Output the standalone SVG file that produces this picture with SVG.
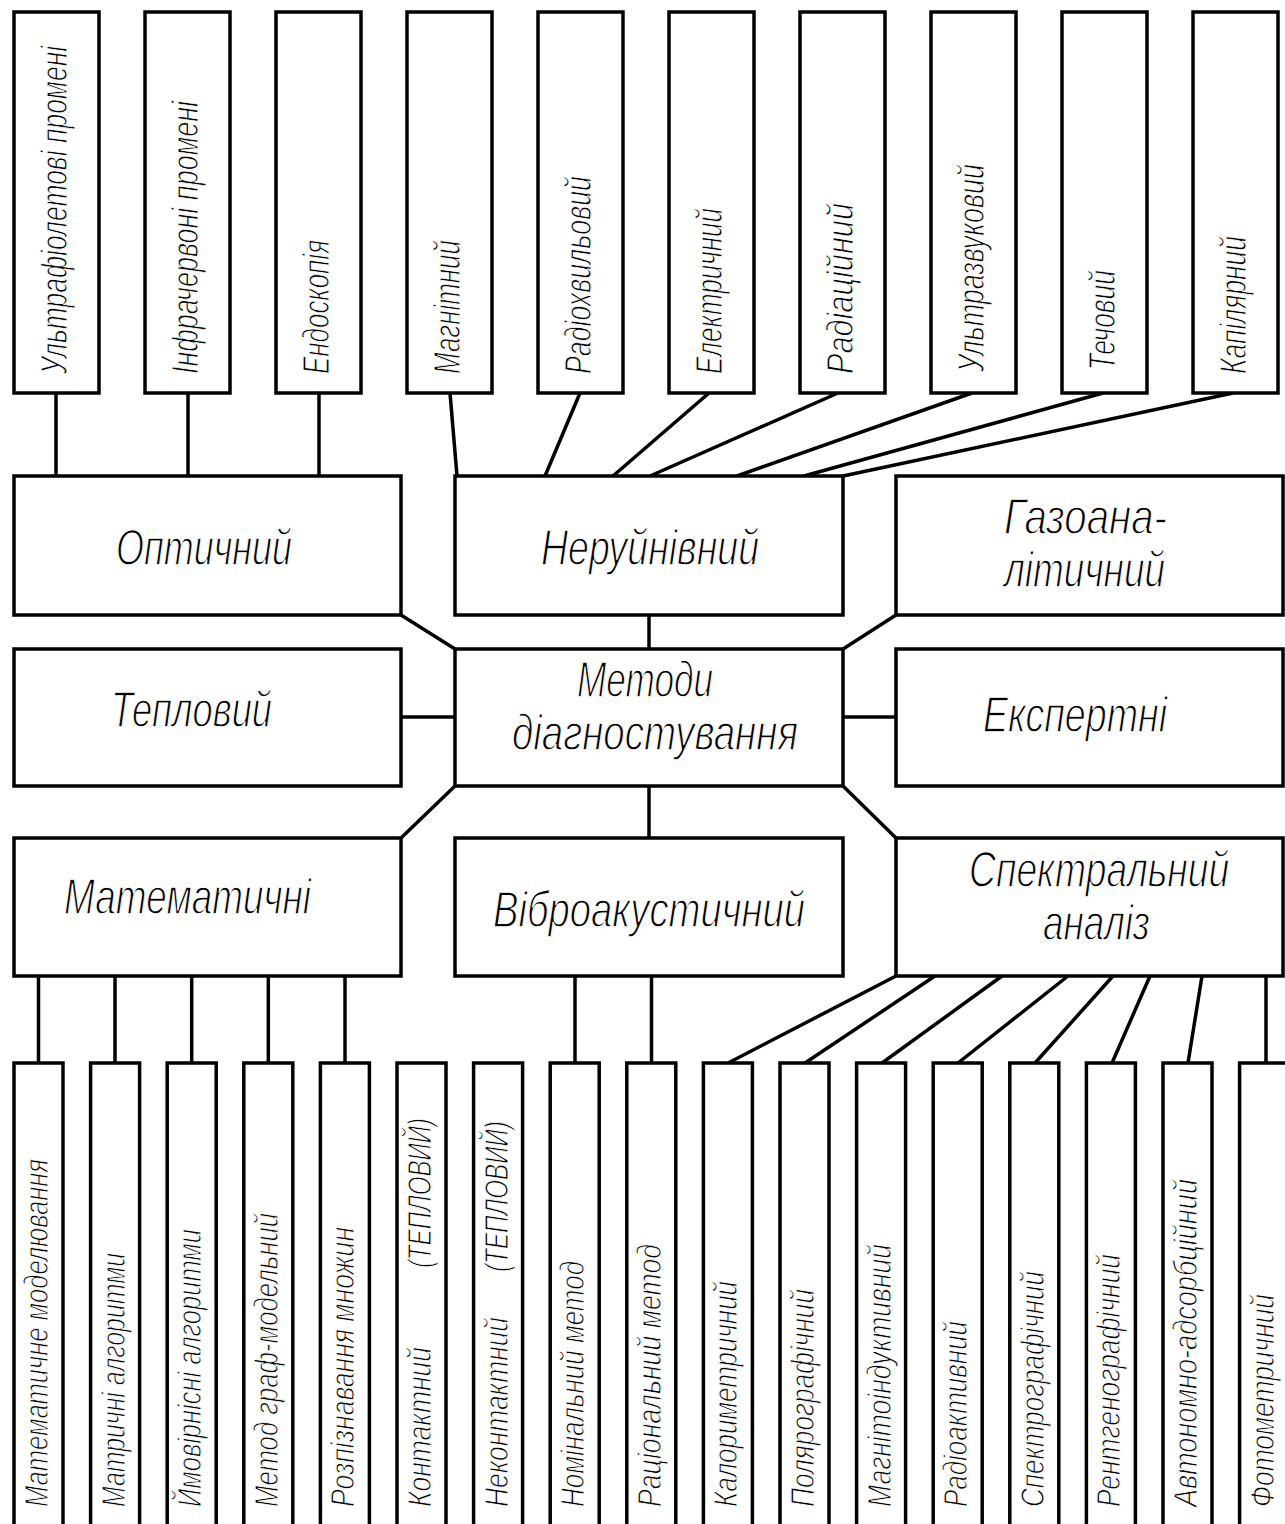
<svg xmlns="http://www.w3.org/2000/svg" width="1285" height="1524" viewBox="0 0 1285 1524">
<style>
rect{fill:#fff;stroke:#000;stroke-width:3.5}
.c line{stroke:#000;stroke-width:3.5}
text{font-family:"Liberation Sans",Arial,sans-serif;font-style:italic;fill:#000;stroke:#fff;stroke-width:1}
.m{font-size:50px;stroke-width:1.3}
.t{font-size:37px}
.b{font-size:34px}
</style>
<rect x="0" y="0" width="1285" height="1524" style="stroke:none"/>
<g class="c">
<line x1="56" y1="393" x2="56" y2="476"/>
<line x1="188" y1="393" x2="188" y2="476"/>
<line x1="319" y1="393" x2="319" y2="476"/>
<line x1="450" y1="393" x2="457" y2="476"/>
<line x1="580" y1="393" x2="545" y2="476"/>
<line x1="709" y1="393" x2="613" y2="476"/>
<line x1="838" y1="393" x2="650" y2="476"/>
<line x1="972" y1="393" x2="737" y2="476"/>
<line x1="1103" y1="393" x2="804" y2="476"/>
<line x1="1233" y1="393" x2="843" y2="476"/>
<line x1="401" y1="615" x2="455" y2="649"/>
<line x1="649" y1="615" x2="649" y2="649"/>
<line x1="896" y1="615" x2="843" y2="649"/>
<line x1="401" y1="717" x2="455" y2="717"/>
<line x1="843" y1="717" x2="896" y2="717"/>
<line x1="455" y1="786" x2="401" y2="838"/>
<line x1="649" y1="786" x2="649" y2="838"/>
<line x1="843" y1="786" x2="896" y2="838"/>
<line x1="38.5" y1="976" x2="38.5" y2="1063"/>
<line x1="115" y1="976" x2="115" y2="1063"/>
<line x1="191.7" y1="976" x2="191.7" y2="1063"/>
<line x1="268.3" y1="976" x2="268.3" y2="1063"/>
<line x1="345" y1="976" x2="345" y2="1063"/>
<line x1="575" y1="976" x2="575" y2="1063"/>
<line x1="651.5" y1="976" x2="651.5" y2="1063"/>
<line x1="896" y1="976" x2="728" y2="1063"/>
<line x1="935" y1="976" x2="805" y2="1063"/>
<line x1="1002" y1="976" x2="882" y2="1063"/>
<line x1="1068" y1="976" x2="958" y2="1063"/>
<line x1="1113" y1="976" x2="1035" y2="1063"/>
<line x1="1150" y1="976" x2="1112" y2="1063"/>
<line x1="1202" y1="976" x2="1188" y2="1063"/>
<line x1="1266" y1="976" x2="1266" y2="1063"/>
</g>
<g id="n-uv"><rect x="14" y="12" width="85" height="381"/><text class="t" transform="translate(67,374) rotate(-90) scale(0.715,1)">Ультрафіолетові промені</text></g>
<g id="n-ir"><rect x="145" y="12" width="85" height="381"/><text class="t" transform="translate(198,374) rotate(-90)" textLength="273" lengthAdjust="spacingAndGlyphs">Інфрачервоні промені</text></g>
<g id="n-endo"><rect x="276" y="12" width="85" height="381"/><text class="t" transform="translate(329,374) rotate(-90)" textLength="134" lengthAdjust="spacingAndGlyphs">Ендоскопія</text></g>
<g id="n-magn"><rect x="407" y="12" width="85" height="381"/><text class="t" transform="translate(460,374) rotate(-90)" textLength="134" lengthAdjust="spacingAndGlyphs">Магнітний</text></g>
<g id="n-radio"><rect x="538" y="12" width="85" height="381"/><text class="t" transform="translate(591,374) rotate(-90)" textLength="198" lengthAdjust="spacingAndGlyphs">Радіохвильовий</text></g>
<g id="n-el"><rect x="669" y="12" width="85" height="381"/><text class="t" transform="translate(722,374) rotate(-90)" textLength="166" lengthAdjust="spacingAndGlyphs">Електричний</text></g>
<g id="n-rad"><rect x="800" y="12" width="85" height="381"/><text class="t" transform="translate(853,374) rotate(-90)" textLength="171" lengthAdjust="spacingAndGlyphs">Радіаційний</text></g>
<g id="n-us"><rect x="931" y="12" width="85" height="381"/><text class="t" transform="translate(984,372) rotate(-90)" textLength="208" lengthAdjust="spacingAndGlyphs">Ультразвуковий</text></g>
<g id="n-tech"><rect x="1062" y="12" width="85" height="381"/><text class="t" transform="translate(1115,370) rotate(-90)" textLength="100" lengthAdjust="spacingAndGlyphs">Течовий</text></g>
<g id="n-kap"><rect x="1193" y="12" width="85" height="381"/><text class="t" transform="translate(1246,374) rotate(-90)" textLength="138" lengthAdjust="spacingAndGlyphs">Капілярний</text></g>
<g id="n-opt"><rect x="14" y="476" width="387" height="139"/><text class="m" x="116" y="565" textLength="176" lengthAdjust="spacingAndGlyphs">Оптичний</text></g>
<g id="n-nerui"><rect x="455" y="476" width="388" height="139"/><text class="m" x="541" y="565" textLength="218" lengthAdjust="spacingAndGlyphs">Неруйнівний</text></g>
<g id="n-gas"><rect x="896" y="476" width="387" height="139"/><text class="m" x="1004" y="534" textLength="163" lengthAdjust="spacingAndGlyphs">Газоана-</text><text class="m" x="1004" y="587" textLength="161" lengthAdjust="spacingAndGlyphs">літичний</text></g>
<g id="n-tepl"><rect x="14" y="649" width="387" height="137"/><text class="m" x="111" y="727" textLength="161" lengthAdjust="spacingAndGlyphs">Тепловий</text></g>
<g id="n-metody"><rect x="455" y="649" width="388" height="137"/><text class="m" x="577" y="697" textLength="136" lengthAdjust="spacingAndGlyphs">Методи</text><text class="m" x="512" y="750" textLength="286" lengthAdjust="spacingAndGlyphs">діагностування</text></g>
<g id="n-eksp"><rect x="896" y="649" width="387" height="137"/><text class="m" x="983" y="732" textLength="184" lengthAdjust="spacingAndGlyphs">Експертні</text></g>
<g id="n-mat"><rect x="14" y="838" width="387" height="138"/><text class="m" x="64" y="914" textLength="247" lengthAdjust="spacingAndGlyphs">Математичні</text></g>
<g id="n-vibro"><rect x="455" y="838" width="388" height="138"/><text class="m" x="493" y="927" textLength="312" lengthAdjust="spacingAndGlyphs">Віброакустичний</text></g>
<g id="n-spectr"><rect x="896" y="838" width="387" height="138"/><text class="m" transform="translate(969,887) scale(0.745,1)">Спектральний</text><text class="m" x="1043" y="940" textLength="107" lengthAdjust="spacingAndGlyphs">аналіз</text></g>
<g id="b1"><rect x="14" y="1063" width="49" height="470"/><text class="b" transform="translate(48,1507) rotate(-90)" textLength="348" lengthAdjust="spacingAndGlyphs">Математичне моделювання</text></g>
<g id="b2"><rect x="90.6" y="1063" width="49" height="470"/><text class="b" transform="translate(124.6,1507) rotate(-90)" textLength="254" lengthAdjust="spacingAndGlyphs">Матричні алгоритми</text></g>
<g id="b3"><rect x="167.2" y="1063" width="49" height="470"/><text class="b" transform="translate(201.2,1507) rotate(-90)" textLength="278" lengthAdjust="spacingAndGlyphs">Ймовірнісні алгоритми</text></g>
<g id="b4"><rect x="243.8" y="1063" width="49" height="470"/><text class="b" transform="translate(277.8,1507) rotate(-90)" textLength="294" lengthAdjust="spacingAndGlyphs">Метод граф-модельний</text></g>
<g id="b5"><rect x="320.4" y="1063" width="49" height="470"/><text class="b" transform="translate(354.4,1507) rotate(-90)" textLength="280" lengthAdjust="spacingAndGlyphs">Розпізнавання множин</text></g>
<g id="b6"><rect x="397" y="1063" width="49" height="470"/><text class="b" transform="translate(431,1507) rotate(-90)"><tspan x="0" textLength="160" lengthAdjust="spacingAndGlyphs">Контактний</tspan><tspan x="239" textLength="150" lengthAdjust="spacingAndGlyphs">(ТЕПЛОВИЙ)</tspan></text></g>
<g id="b7"><rect x="473.6" y="1063" width="49" height="470"/><text class="b" transform="translate(507.6,1507) rotate(-90)"><tspan x="0" textLength="190" lengthAdjust="spacingAndGlyphs">Неконтактний</tspan><tspan x="235" textLength="151" lengthAdjust="spacingAndGlyphs">(ТЕПЛОВИЙ)</tspan></text></g>
<g id="b8"><rect x="550.2" y="1063" width="49" height="470"/><text class="b" transform="translate(584.2,1507) rotate(-90)" textLength="246" lengthAdjust="spacingAndGlyphs">Номінальний метод</text></g>
<g id="b9"><rect x="626.8" y="1063" width="49" height="470"/><text class="b" transform="translate(660.8,1507) rotate(-90)" textLength="263" lengthAdjust="spacingAndGlyphs">Раціональний метод</text></g>
<g id="b10"><rect x="703.4" y="1063" width="49" height="470"/><text class="b" transform="translate(737.4,1507) rotate(-90)" textLength="226" lengthAdjust="spacingAndGlyphs">Калориметричний</text></g>
<g id="b11"><rect x="780" y="1063" width="49" height="470"/><text class="b" transform="translate(814,1507) rotate(-90)" textLength="218" lengthAdjust="spacingAndGlyphs">Полярографічний</text></g>
<g id="b12"><rect x="856.6" y="1063" width="49" height="470"/><text class="b" transform="translate(890.6,1507) rotate(-90)" textLength="263" lengthAdjust="spacingAndGlyphs">Магнітоіндуктивний</text></g>
<g id="b13"><rect x="933.2" y="1063" width="49" height="470"/><text class="b" transform="translate(967.2,1507) rotate(-90)" textLength="186" lengthAdjust="spacingAndGlyphs">Радіоактивний</text></g>
<g id="b14"><rect x="1009.8" y="1063" width="49" height="470"/><text class="b" transform="translate(1043.8,1507) rotate(-90)" textLength="236" lengthAdjust="spacingAndGlyphs">Спектрографічний</text></g>
<g id="b15"><rect x="1086.4" y="1063" width="49" height="470"/><text class="b" transform="translate(1120.4,1507) rotate(-90)" textLength="253" lengthAdjust="spacingAndGlyphs">Рентгенографічний</text></g>
<g id="b16"><rect x="1163" y="1063" width="49" height="470"/><text class="b" transform="translate(1197,1507) rotate(-90)" textLength="328" lengthAdjust="spacingAndGlyphs">Автономно-адсорбційний</text></g>
<g id="b17"><rect x="1239.6" y="1063" width="49" height="470"/><text class="b" transform="translate(1273.6,1507) rotate(-90)" textLength="213" lengthAdjust="spacingAndGlyphs">Фотометричний</text></g>
</svg>
